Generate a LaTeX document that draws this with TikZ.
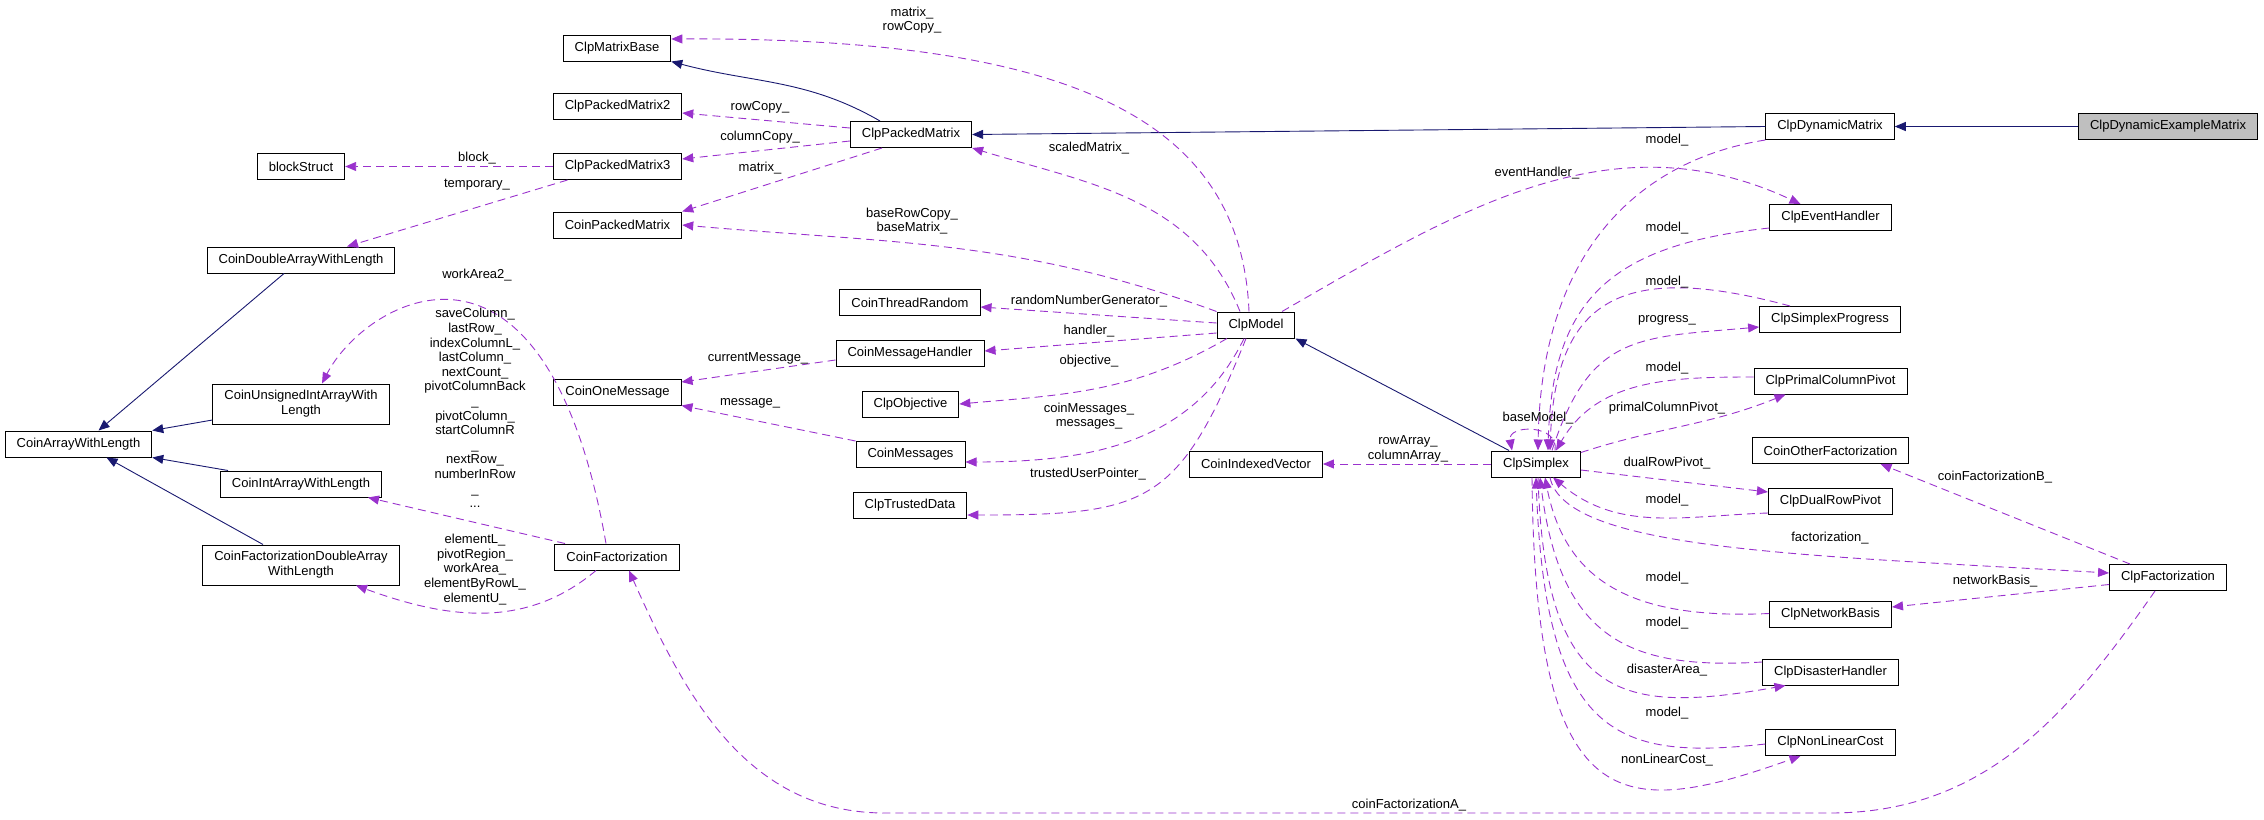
\documentclass[tikz,border=0pt]{standalone}
\usepackage{fontspec}
\setmainfont{Liberation Sans}
\usetikzlibrary{arrows.meta}
\definecolor{usecol}{HTML}{9A32CD}
\definecolor{inhcol}{HTML}{191970}
\definecolor{thisgray}{HTML}{BFBFBF}

\begin{document}
\begin{tikzpicture}[x=1pt, y=1pt,
    cls/.style={draw, line width=1pt, fill=white, inner xsep=11.5pt, inner ysep=0pt, minimum height=26pt, align=center, font=\fontsize{13}{15}\selectfont},
    lbl/.style={inner sep=0pt, align=center, font=\fontsize{13}{14.6}\selectfont},
    inh/.style={draw=inhcol, line width=0.9pt, -{Triangle[length=11pt, width=9pt]}},
    use/.style={draw=usecol, line width=0.9pt, dash pattern=on 8pt off 5pt, -{Triangle[length=11pt, width=9pt]}}]
        \useasboundingbox (0,0) rectangle (2264,-819);
        \node [cls, fill=thisgray] (0) at (2168,-126.5) {ClpDynamicExampleMatrix};
        \node [cls] (1) at (1830,-126.5) {ClpDynamicMatrix};
        \node [cls] (2) at (911,-134.5) {ClpPackedMatrix};
        \node [cls] (3) at (617,-48) {ClpMatrixBase};
        \node [cls] (4) at (617.5,-106.5) {ClpPackedMatrix2};
        \node [cls] (5) at (617.5,-166.5) {ClpPackedMatrix3};
        \node [cls] (6) at (617.5,-225) {CoinPackedMatrix};
        \node [cls] (7) at (301,-166.5) {blockStruct};
        \node [cls] (8) at (301,-260) {CoinDoubleArrayWithLength};
        \node [cls] (9) at (78.5,-444) {CoinArrayWithLength};
        \node [cls, minimum height=40pt] (10) at (301,-404) {CoinUnsignedIntArrayWith\\Length};
        \node [cls] (11) at (301,-484) {CoinIntArrayWithLength};
        \node [cls, minimum height=40pt] (12) at (301,-565) {CoinFactorizationDoubleArray\\WithLength};
        \node [cls] (13) at (617,-557) {CoinFactorization};
        \node [cls] (14) at (617.5,-392) {CoinOneMessage};
        \node [cls] (15) at (910,-302.5) {CoinThreadRandom};
        \node [cls] (16) at (910,-353.5) {CoinMessageHandler};
        \node [cls] (17) at (910.5,-404) {ClpObjective};
        \node [cls] (18) at (910.5,-454.5) {CoinMessages};
        \node [cls] (19) at (910,-505) {ClpTrustedData};
        \node [cls] (20) at (1256,-325) {ClpModel};
        \node [cls] (21) at (1256,-464) {CoinIndexedVector};
        \node [cls] (22) at (1536,-464) {ClpSimplex};
        \node [cls] (23) at (1830.5,-217.5) {ClpEventHandler};
        \node [cls] (24) at (1830,-319.5) {ClpSimplexProgress};
        \node [cls] (25) at (1830.5,-381) {ClpPrimalColumnPivot};
        \node [cls] (26) at (1830.5,-450.5) {CoinOtherFactorization};
        \node [cls] (27) at (1830.5,-501) {ClpDualRowPivot};
        \node [cls] (28) at (1830.5,-614.5) {ClpNetworkBasis};
        \node [cls] (29) at (1830.5,-672) {ClpDisasterHandler};
        \node [cls] (30) at (1830.5,-742.5) {ClpNonLinearCost};
        \node [cls] (31) at (2168,-577.5) {ClpFactorization};
        \draw [inh] ([xshift=-31pt]2.north) to [out=150, in=-15] (3.south east);
        \draw [inh] (1.west) -- (2.east);
        \draw [inh] (0.west) -- (1.east);
        \draw [inh] ([xshift=-27pt]22.north) -- (20.south east);
        \draw [inh] ([xshift=-17pt]8.south) -- ([xshift=20pt]9.north);
        \draw [inh] ([yshift=-16pt]10.west) -- (9.north east);
        \draw [inh] ([xshift=-73pt]11.north) -- (9.south east);
        \draw [inh] ([xshift=-38pt]12.north) -- ([xshift=28pt]9.south);
        \draw [use] ([xshift=-7pt]20.north) .. controls (1241,-121) and (1076,-37) .. ([yshift=9pt]3.east);
        \draw [use] ([yshift=6.5pt]2.west) -- ([yshift=-6.5pt]4.east);
        \draw [use] ([yshift=-6.5pt]2.west) -- ([yshift=7.5pt]5.east);
        \draw [use] ([xshift=-29pt]2.south) -- (6.north east);
        \draw [use] (20.north west) to [out=160, in=-5] (6.east);
        \draw [use] ([xshift=-16pt]20.north) to [out=112, in=-17] (2.south east);
        \draw [use] (5.west) -- (7.east);
        \draw [use] ([xshift=-50pt]5.south) -- ([xshift=46pt]8.north);
        \draw [use] ([xshift=-11pt]13.north) .. controls (545,-195) and (365,-300) .. ([xshift=21pt]10.north);
        \draw [use] ([xshift=-52pt]13.north) -- ([xshift=67pt]11.south);
        \draw [use] ([xshift=-21pt]13.south) to [out=-140, in=-20] ([xshift=55pt]12.south);
        \draw [use] ([xshift=-13pt]31.south) to [out=-125, in=0] (1830,-813) -- (885,-813) to [out=180, in=-66] ([xshift=12pt]13.south);
        \draw [use] ([yshift=-6.5pt]16.west) -- ([yshift=10pt]14.east);
        \draw [use] (18.north west) -- (14.south east);
        \draw [use] ([yshift=2pt]20.west) -- ([yshift=-4.5pt]15.east);
        \draw [use] ([yshift=-8pt]20.west) -- ([yshift=2.5pt]16.east);
        \draw [use] ([xshift=-29pt]20.south) to [out=-150, in=5] (17.east);
        \draw [use] ([xshift=-12pt]20.south) to [out=-116, in=0] ([yshift=-7.5pt]18.east);
        \draw [use] ([xshift=-10pt]20.south) to [out=-112, in=0, looseness=1.4] ([yshift=-10pt]19.east);
        \draw [use] (22.west) -- (21.east);
        \draw [use] ([xshift=26pt]20.north) to [out=30, in=155] ([xshift=-30pt]23.north);
        \draw [use] (1.south west) .. controls (1640,-160) and (1541,-250) .. ([xshift=2pt]22.north);
        \draw [use] ([yshift=-10.5pt]23.west) .. controls (1610,-245) and (1552,-300) .. ([xshift=12pt]22.north);
        \draw [use] ([xshift=-40pt]24.north) .. controls (1620,-260) and (1555,-300) .. ([xshift=14pt]22.north);
        \draw [use] ([xshift=16pt]22.north) to [out=72, in=185, looseness=1.3] ([yshift=-7.5pt]24.west);
        \draw [use] ([yshift=4pt]25.west) to [out=180, in=60] ([xshift=20pt]22.north);
        \draw [use] ([yshift=-2pt]22.north east) to [out=18, in=-158] ([xshift=-45pt]25.south);
        \draw [use] ([xshift=19pt]22.north) to [out=80, in=100, looseness=1.6] ([xshift=-24pt]22.north);
        \draw [use] ([yshift=-6pt]22.east) -- ([yshift=9pt]27.west);
        \draw [use] ([yshift=-12pt]27.west) to [out=182, in=-40] ([xshift=17pt]22.south);
        \draw [use] ([xshift=14pt]22.south) .. controls (1565,-550) and (1800,-555) .. ([yshift=4.5pt]31.west);
        \draw [use] ([xshift=-38pt]31.north) -- ([xshift=50pt]26.south);
        \draw [use] ([yshift=-7pt]31.west) -- ([yshift=7.5pt]28.east);
        \draw [use] ([yshift=1pt]28.west) .. controls (1630,-620) and (1565,-580) .. ([xshift=9pt]22.south);
        \draw [use] ([yshift=10pt]29.west) .. controls (1630,-670) and (1560,-640) .. ([xshift=4pt]22.south);
        \draw [use] ([xshift=2pt]22.south) .. controls (1545,-700) and (1620,-715) .. ([xshift=-45pt]29.south);
        \draw [use] ([yshift=-1.5pt]30.west) .. controls (1620,-760) and (1545,-740) .. (22.south);
        \draw [use] ([xshift=-4pt]22.south) .. controls (1535,-820) and (1620,-820) .. ([xshift=-30pt]30.south);
        \node [lbl] (32) at (912,-20) {matrix\_\\rowCopy\_};
        \node [lbl] (33) at (760,-107) {rowCopy\_};
        \node [lbl] (34) at (760,-137) {columnCopy\_};
        \node [lbl] (35) at (760,-168) {matrix\_};
        \node [lbl] (36) at (912,-221) {baseRowCopy\_\\baseMatrix\_};
        \node [lbl] (37) at (1089,-148) {scaledMatrix\_};
        \node [lbl] (38) at (477,-158) {block\_};
        \node [lbl] (39) at (477,-185) {temporary\_};
        \node [lbl] (40) at (477,-275) {workArea2\_};
        \node [lbl] (41) at (475,-408) {saveColumn\_\\lastRow\_\\indexColumnL\_\\lastColumn\_\\nextCount\_\\pivotColumnBack\\\_\\pivotColumn\_\\startColumnR\\\_\\nextRow\_\\numberInRow\\\_\\...};
        \node [lbl] (42) at (475,-569.5) {elementL\_\\pivotRegion\_\\workArea\_\\elementByRowL\_\\elementU\_};
        \node [lbl] (43) at (1409,-805) {coinFactorizationA\_};
        \node [lbl] (44) at (758,-358) {currentMessage\_};
        \node [lbl] (45) at (750,-403) {message\_};
        \node [lbl] (46) at (1089,-301) {randomNumberGenerator\_};
        \node [lbl] (47) at (1089,-331) {handler\_};
        \node [lbl] (48) at (1089,-361) {objective\_};
        \node [lbl] (49) at (1089,-416) {coinMessages\_\\messages\_};
        \node [lbl] (50) at (1088,-474) {trustedUserPointer\_};
        \node [lbl] (51) at (1408,-449) {rowArray\_\\columnArray\_};
        \node [lbl] (52) at (1537,-173) {eventHandler\_};
        \node [lbl] (53) at (1667,-140) {model\_};
        \node [lbl] (54) at (1667,-228) {model\_};
        \node [lbl] (55) at (1667,-282) {model\_};
        \node [lbl] (56) at (1667,-320) {progress\_};
        \node [lbl] (57) at (1667,-368) {model\_};
        \node [lbl] (58) at (1667,-408) {primalColumnPivot\_};
        \node [lbl] (59) at (1538,-418) {baseModel\_};
        \node [lbl] (60) at (1667,-463) {dualRowPivot\_};
        \node [lbl] (61) at (1667,-500) {model\_};
        \node [lbl] (62) at (1830,-538) {factorization\_};
        \node [lbl] (63) at (1995,-477) {coinFactorizationB\_};
        \node [lbl] (64) at (1995,-581) {networkBasis\_};
        \node [lbl] (65) at (1667,-578) {model\_};
        \node [lbl] (66) at (1667,-623) {model\_};
        \node [lbl] (67) at (1667,-670) {disasterArea\_};
        \node [lbl] (68) at (1667,-713) {model\_};
        \node [lbl] (69) at (1667,-760) {nonLinearCost\_};
\end{tikzpicture}
\end{document}
